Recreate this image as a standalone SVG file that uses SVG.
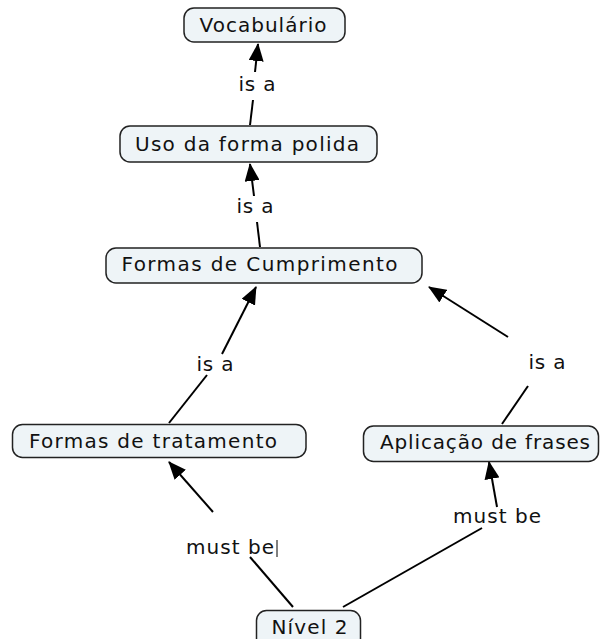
<svg xmlns="http://www.w3.org/2000/svg" width="600" height="639" viewBox="0 0 600 639">
<defs>
<marker id="ah" viewBox="0 0 18 15" refX="17" refY="7.5" markerWidth="18" markerHeight="15" markerUnits="userSpaceOnUse" orient="auto"><path d="M0,0 L18,7.5 L0,15 z" fill="#000"/></marker>
<style>
.box{fill:#eef4f7;stroke:#222;stroke-width:1.5}
.t{font-family:"DejaVu Sans",sans-serif;font-size:20px;fill:#111;text-anchor:middle}
.l{stroke:#000;stroke-width:2;fill:none}
</style>
</defs>
<rect width="600" height="639" fill="#fff"/>
<g id="connectors">
<line class="l" x1="250" y1="125" x2="253" y2="100"/>
<line class="l" x1="255" y1="72" x2="258" y2="44" marker-end="url(#ah)"/>
<line class="l" x1="260" y1="247" x2="257" y2="222"/>
<line class="l" x1="254" y1="196" x2="250" y2="164" marker-end="url(#ah)"/>
<line class="l" x1="169" y1="423" x2="207" y2="375"/>
<line class="l" x1="222" y1="354" x2="256" y2="287" marker-end="url(#ah)"/>
<line class="l" x1="502" y1="424" x2="528" y2="386"/>
<line class="l" x1="508" y1="337" x2="429" y2="287" marker-end="url(#ah)"/>
<line class="l" x1="293" y1="607" x2="250" y2="557"/>
<line class="l" x1="213" y1="512" x2="169" y2="462" marker-end="url(#ah)"/>
<line class="l" x1="343" y1="607" x2="482" y2="528"/>
<line class="l" x1="497" y1="507" x2="489" y2="462" marker-end="url(#ah)"/>
<line x1="277" y1="540" x2="277" y2="557" stroke="#000" stroke-width="1"/>
</g>
<g id="lbl1"><text class="t" x="257" y="91" textLength="37">is a</text></g>
<g id="lbl2"><text class="t" x="255" y="213" textLength="37">is a</text></g>
<g id="lbl3"><text class="t" x="215" y="371" textLength="37">is a</text></g>
<g id="lbl4"><text class="t" x="547" y="369" textLength="37">is a</text></g>
<g id="lbl5"><text class="t" x="230" y="554" textLength="88">must be</text></g>
<g id="lbl6"><text class="t" x="497" y="523" textLength="88">must be</text></g>
<g id="n-vocab"><rect class="box" x="184" y="8" width="161" height="34" rx="10"/><text class="t" x="263" y="32" textLength="127">Vocabulário</text></g>
<g id="n-uso"><rect class="box" x="120" y="126" width="257" height="36" rx="10"/><text class="t" x="247" y="150.5" textLength="224">Uso da forma polida</text></g>
<g id="n-formas-cump"><rect class="box" x="106" y="248" width="316" height="35" rx="10"/><text class="t" x="259.5" y="270.5" textLength="276">Formas de Cumprimento</text></g>
<g id="n-formas-trat"><rect class="box" x="12.5" y="424.5" width="293.5" height="33" rx="10"/><text class="t" x="153" y="448" textLength="248">Formas de tratamento</text></g>
<g id="n-aplic"><rect class="box" x="363.5" y="426" width="235" height="35.5" rx="10"/><text class="t" x="485" y="449" textLength="210">Aplicação de frases</text></g>
<g id="n-nivel"><rect class="box" x="256.5" y="610.5" width="104" height="40" rx="10"/><text class="t" x="309.5" y="634" textLength="76">Nível 2</text></g>
</svg>
